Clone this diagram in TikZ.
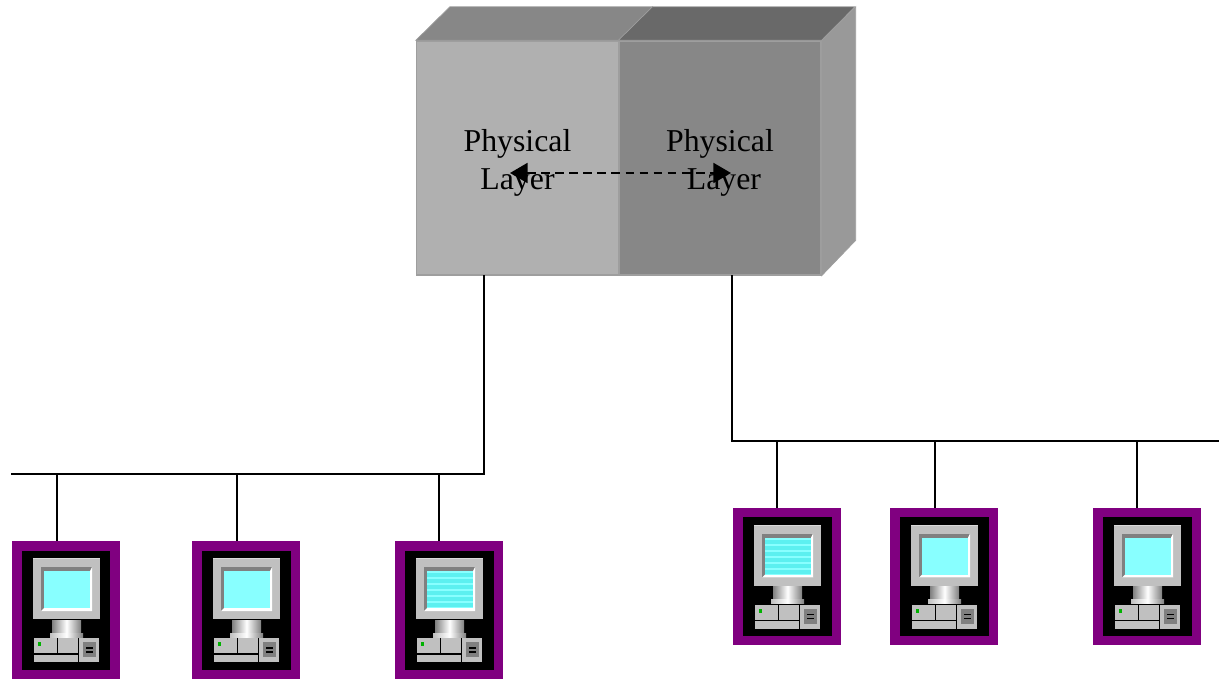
\documentclass[tikz,border=0pt]{standalone}
\usepackage{fontspec}
\setmainfont{Liberation Serif}
\usetikzlibrary{arrows.meta}

\definecolor{pcpurple}{HTML}{800080}
\definecolor{pcscreen}{HTML}{88FFFF}
\definecolor{pcline}{HTML}{5CF0F0}
\definecolor{pcgray}{HTML}{C0C0C0}
\definecolor{pcdark}{HTML}{808080}
\definecolor{faceedge}{HTML}{9E9E9E}

\tikzset{
    face/.style={shape=rectangle,draw=faceedge,line width=.8pt,inner sep=0pt,
        minimum width=4.04cm,minimum height=4.68cm},
    facetext/.style={align=center,inner sep=0pt,font=\fontsize{18.1}{21.6}\selectfont},
    pcbox/.style={shape=rectangle,fill=black,draw=pcpurple,line width=5.4pt,inner sep=0pt,
        minimum width=1.97cm,minimum height=2.57cm},
    wire/.style={draw=black,line width=1.05pt},
    pics/computer/.style={code={
        % monitor
        \fill[pcgray] (-33,-52) rectangle (34,9);
        \fill[white!85!black] (-33,-52) rectangle (34,-51);
        \fill[pcdark] (-25,-43) rectangle (26,1);
        \fill[white] (-25,1) -- (26,1) -- (26,-43) -- (24,-39) -- (24,-2) -- (-22,-2) -- cycle;
        \fill[pcscreen] (-22,-39) rectangle (24,-2);
        % stand
        \shade[left color=pcdark,right color=pcdark,middle color=white] (-14,10) rectangle (15,23);
        \shade[left color=pcgray,right color=pcdark,middle color=white] (-16,23) rectangle (17,27);
        % case
        \fill[pcgray] (-32,28) rectangle (-9,43);
        \fill[pcgray] (-8,28) rectangle (12,43);
        \fill[pcgray] (-32,44.5) rectangle (12,52);
        \fill[pcgray] (13,28) rectangle (33,52);
        \fill[pcdark] (17,32) rectangle (30,47);
        \draw[black,line width=.6pt] (20,38) -- (27,38) (20,42) -- (27,42);
        \fill[green!70!black] (-28,32) rectangle (-25,36);
    }},
    pics/lines/.style={code={
        \foreach \s in {-37,-31,...,-7}
            \fill[pcline] (-22,\s) rectangle (24,\s+4);
    }}
}

\begin{document}
\begin{tikzpicture}[x=0.02cm,y=-0.02cm,>={Triangle[length=10pt,width=11.4pt]}]
    \useasboundingbox (0,0) rectangle (1219,679);
    \node[face,fill=black!31] (left) at (517.5,158) {};
    \node[face,fill=black!47] (right) at (720,158) {};
    \filldraw[draw=faceedge,fill=black!47] (left.north west) -- ++(34,-33.5) -- ++(202.5,0) -- (left.north east) -- cycle;
    \filldraw[draw=faceedge,fill=black!59] (right.north west) -- ++(34,-33.5) -- ++(202.5,0) -- (right.north east) -- cycle;
    \filldraw[draw=faceedge,fill=black!40] (right.north east) -- ++(34,-33.5) -- ++(0,233.5) -- (right.south east) -- cycle;
    \node[facetext] (lefttext) at (517.5,163) {Physical\\Layer};
    \node[facetext] (righttext) at (720,163) {Physical\\\hspace{4.5pt}Layer};

    \coordinate (a) at (510,173);
    \coordinate (b) at (731,173);
    \path[<->,dash pattern=on 5pt off 3pt,line width=1pt](a) edge (b);

    \node[pcbox] (0) at (66,610) {};
    \node[pcbox] (1) at (246,610) {};
    \node[pcbox] (2) at (449,610) {};
    \node[pcbox] (3) at (787,576.5) {};
    \node[pcbox] (4) at (944,576.5) {};
    \node[pcbox] (5) at (1147,576.5) {};
    \pic at (0) {computer};
    \pic at (1) {computer};
    \pic at (2) {computer};
    \pic at (3) {computer};
    \pic at (4) {computer};
    \pic at (5) {computer};
    \pic at (2) {lines};
    \pic at (3) {lines};

    \coordinate (l0) at (484,275);
    \coordinate (l1) at (484,474);
    \coordinate (l2) at (11,474);
    \coordinate (r0) at (732,275);
    \coordinate (r1) at (732,441);
    \coordinate (r2) at (1219,441);
    \coordinate (d0) at (57,474);
    \coordinate (d1) at (237,474);
    \coordinate (d2) at (439,474);
    \coordinate (d3) at (777,441);
    \coordinate (d4) at (935,441);
    \coordinate (d5) at (1137,441);
    \path[wire](l0) -- (l1) -- (l2);
    \path[wire](r0) -- (r1) -- (r2);
    \path[wire](d0) -- (d0 |- 0.north);
    \path[wire](d1) -- (d1 |- 1.north);
    \path[wire](d2) -- (d2 |- 2.north);
    \path[wire](d3) -- (d3 |- 3.north);
    \path[wire](d4) -- (d4 |- 4.north);
    \path[wire](d5) -- (d5 |- 5.north);
\end{tikzpicture}
\end{document}
